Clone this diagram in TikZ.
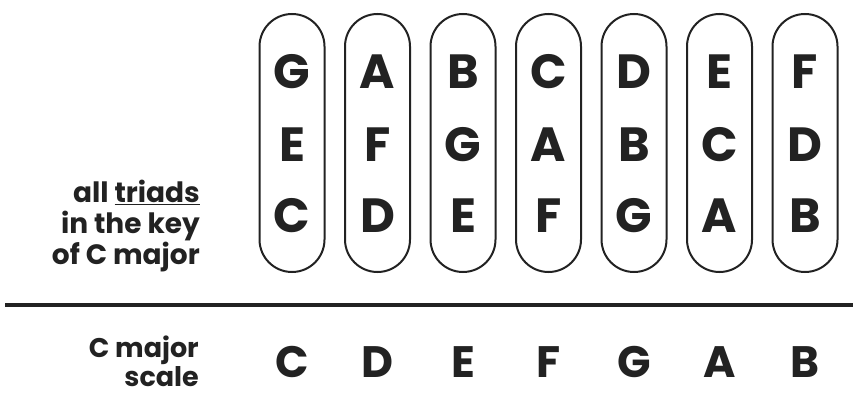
\documentclass[tikz,border=0pt]{standalone}
\usepackage{fontspec}
\setmainfont{Poppins}
\definecolor{ink}{HTML}{222222}
\begin{document}
\begin{tikzpicture}[x=1pt,y=1pt,
  pill/.style={draw=ink, line width=2pt, rounded corners=32.5pt, minimum width=65pt, minimum height=258pt, inner sep=0pt},
  note/.style={font=\fontsize{48}{48}\selectfont\bfseries, text=ink, inner sep=0pt},
  lbl/.style={font=\fontsize{28}{31}\selectfont\bfseries, text=ink, align=right, anchor=east, inner sep=0pt}]
\useasboundingbox (0,0) rectangle (853,397);
\foreach \i/\a/\b/\c in {0/G/E/C,1/A/F/D,2/B/G/E,3/C/A/F,4/D/B/G,5/E/C/A,6/F/D/B}{
  \pgfmathsetmacro{\cx}{292+85.5*\i}
  \node[pill] (p\i) at (\cx,254) {};
  \node[note] (t\i) at (\cx,325) {\a};
  \node[note] (m\i) at (\cx,252) {\b};
  \node[note] (b\i) at (\cx,181) {\c};
}
\node[lbl] (triads) at (200,171) {all \underline{triads}\\in the key\\of C major};
\coordinate (l0) at (5,92);
\coordinate (l1) at (853,92);
\draw[ink, line width=4pt] (l0) -- (l1);
\foreach \i/\n in {0/C,1/D,2/E,3/F,4/G,5/A,6/B}{
  \pgfmathsetmacro{\cx}{292+85.5*\i}
  \node[note, font=\fontsize{44}{44}\selectfont\bfseries] (s\i) at (\cx,35) {\n};
}
\node[lbl, font=\fontsize{27}{29}\selectfont\bfseries] (scale) at (199,36) {C major\\scale};
\end{tikzpicture}
\end{document}
